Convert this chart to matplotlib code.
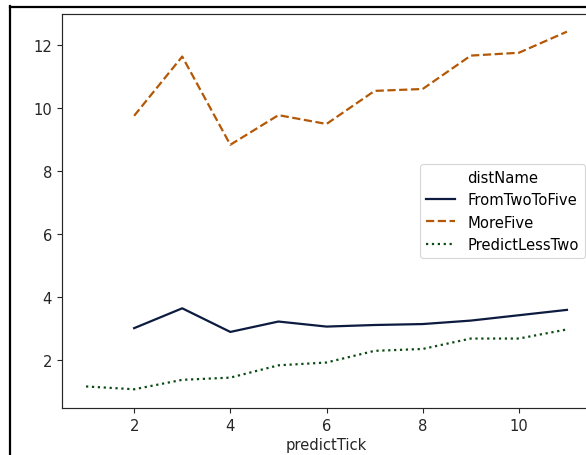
import numpy as np
import pandas as pd
import matplotlib
matplotlib.use("Agg")
import matplotlib.pyplot as plt
from matplotlib.lines import Line2D

# values
ticks_more = [2, 3, 4, 5, 6, 7, 8, 9, 10, 11]
more_five = [9.75, 11.63, 8.83, 9.77, 9.49, 10.54, 10.60, 11.66, 11.75, 12.42]

ticks_two_five = [2, 3, 4, 5, 6, 7, 8, 9, 10, 11]
two_to_five = [3.01, 3.64, 2.89, 3.22, 3.06, 3.11, 3.14, 3.25, 3.42, 3.59]

ticks_less = [1, 2, 3, 4, 5, 6, 7, 8, 9, 10, 11]
less_two = [1.16, 1.07, 1.37, 1.44, 1.83, 1.92, 2.29, 2.35, 2.68, 2.68, 2.97]

series = [
  ("FromTwoToFive", ticks_two_five, two_to_five, "#0c1b3f", "-"),
  ("MoreFive", ticks_more, more_five, "#b35806", (0, (3.7, 1.6))),
  ("PredictLessTwo", ticks_less, less_two, "#0b4a12", (0, (1, 1.65))),
]

W, H, DPI = 586, 456, 100
fs = 10.6

fig = plt.figure(figsize=(W / DPI, H / DPI), dpi=DPI)
ax = fig.add_axes([62 / W, (H - 409) / H, (591 - 62) / W, (409 - 15) / H])

for name, x, y, color, ls in series:
  ax.plot(x, y, color=color, linestyle=ls, linewidth=1.6, label=name)

ax.set_xlim(0.5, 11.5)
ax.set_ylim(0.476, 12.98)
ax.set_xticks([2, 4, 6, 8, 10])
ax.set_yticks([2, 4, 6, 8, 10, 12])
ax.tick_params(labelsize=fs, length=3.7, width=0.8, colors="#262626")
ax.set_xlabel("predictTick", fontsize=fs, color="#262626", labelpad=3)
for s in ax.spines.values():
  s.set_color("#262626")
  s.set_linewidth(0.85)
# the screenshot is cropped before the right spine
ax.spines['right'].set_visible(False)

leg = ax.legend(title="distName", fontsize=fs, title_fontsize=fs,
                loc="upper left", bbox_to_anchor=((420 - 62) / 529, 1 - (165 - 15) / 394),
                borderaxespad=0, handlelength=2.0, labelspacing=0.5,
                framealpha=0.8, edgecolor="#cccccc")
leg.get_frame().set_linewidth(0.8)

# black frame from the screenshot
fig.add_artist(Line2D([10 / W, 10 / W], [0, 1 - 7 / H], color="black", lw=1.6,
                      transform=fig.transFigure))
fig.add_artist(Line2D([10 / W, 1], [1 - 7.5 / H, 1 - 7.5 / H], color="black", lw=1.6,
                      transform=fig.transFigure))

fig.savefig("out.png", dpi=DPI)
